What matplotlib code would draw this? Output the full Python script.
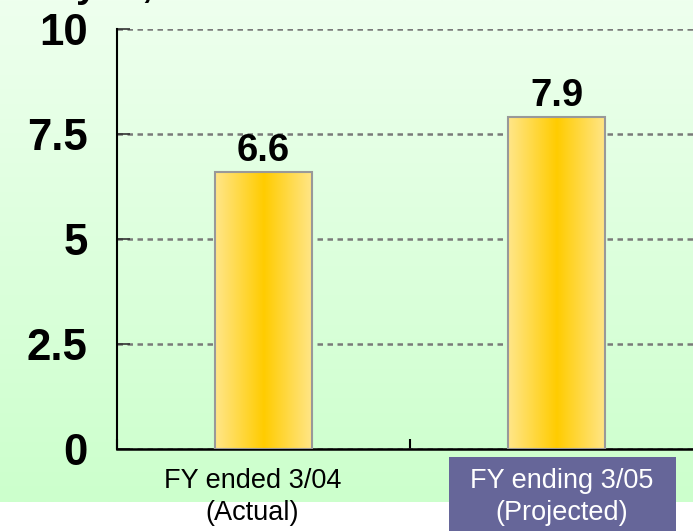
import matplotlib
matplotlib.use("Agg")
import matplotlib.pyplot as plt
import matplotlib.transforms as mtransforms
import numpy as np
from matplotlib.colors import LinearSegmentedColormap
from matplotlib.patches import Rectangle

plt.rcParams["font.family"] = ["Liberation Sans", "DejaVu Sans"]

categories = ["FY ended 3/04\n(Actual)", "FY ending 3/05\n(Projected)"]
values = [6.6, 7.9]
value_labels = ["6.6", "7.9"]
yticks = [0, 2.5, 5, 7.5, 10]
ytick_labels = ["0", "2.5", "5", "7.5", "10"]
unit_text = "yen,"

W, H = 693, 531
fig = plt.figure(figsize=(W / 100, H / 100), dpi=100)
fig.patch.set_facecolor("white")

# green gradient backdrop (ends a bit above the bottom edge)
bg = fig.add_axes([0, (H - 502) / H, 1, 502 / H])
bg.set_zorder(-2)
bg.set_axis_off()
grad = np.linspace(0, 1, 256).reshape(-1, 1)
bg_cmap = LinearSegmentedColormap.from_list("bg", ["#EEFFEE", "#CCFFCC"])
bg.imshow(grad, aspect="auto", cmap=bg_cmap, extent=(0, 1, 0, 1), origin="upper")

# unit label, mostly cut off by the top edge (as in the original)
fig.text(76 / W, (H + 3) / H, unit_text, fontsize=28, fontweight="bold", va="baseline", ha="left")

# purple box behind the projected label
fig.patches.append(Rectangle((449 / W, 0), (676 - 449) / W, (H - 457) / H,
                             transform=fig.transFigure, facecolor="#666699",
                             edgecolor="none", zorder=-1))

ax = fig.add_axes([117 / W, (H - 449) / H, 586 / W, 420 / H])
ax.set_zorder(1)
ax.set_facecolor("none")

x = np.arange(len(categories))
bars = ax.bar(x, values, width=0.334, facecolor="none", edgecolor="#999999", linewidth=1.5, zorder=3)

bar_cmap = LinearSegmentedColormap.from_list("bar", ["#FFE68A", "#FFCC00", "#FFE68A"])
hgrad = np.linspace(0, 1, 256).reshape(1, -1)
for b in bars:
    im = ax.imshow(hgrad, aspect="auto", cmap=bar_cmap,
                   extent=(b.get_x(), b.get_x() + b.get_width(), 0, b.get_height()),
                   zorder=2)
    im.set_clip_path(b)

for xi, v, lab in zip(x, values, value_labels):
    ax.annotate(lab, (xi, v), xytext=(0, 8), textcoords="offset points",
                ha="center", va="baseline", fontsize=27.5, fontweight="bold")

ax.set_xlim(-0.5, 1.5)
ax.set_ylim(0, 10)

ax.set_yticks(yticks)
ax.set_yticklabels(ytick_labels, fontsize=31.5, fontweight="bold")
ax.tick_params(axis="y", direction="in", length=9, width=1.2, pad=21, color="#333333")

ax.set_xticks(x)
ax.set_xticklabels(categories, fontsize=19.5, linespacing=1.3)
ax.set_xticks([-0.5, 0.5, 1.5], minor=True)
ax.tick_params(axis="x", which="major", length=0, pad=14)
ax.tick_params(axis="x", which="minor", direction="in", length=7, width=1.5)

xl = ax.get_xticklabels()
xl[0].set_transform(xl[0].get_transform() + mtransforms.ScaledTranslation(-11 / 100, 0, fig.dpi_scale_trans))
xl[1].set_transform(xl[1].get_transform() + mtransforms.ScaledTranslation(5 / 100, 0, fig.dpi_scale_trans))
xl[1].set_color("white")

ax.grid(axis="y", color="#7a7a7a", linestyle=(0, (2.2, 1.8)), linewidth=1.8, zorder=1)
ax.set_axisbelow(True)

for s in ["top", "right"]:
    ax.spines[s].set_visible(False)
ax.spines["left"].set_linewidth(1.5)
ax.spines["bottom"].set_linewidth(1.8)

fig.savefig("out.png", dpi=100)
